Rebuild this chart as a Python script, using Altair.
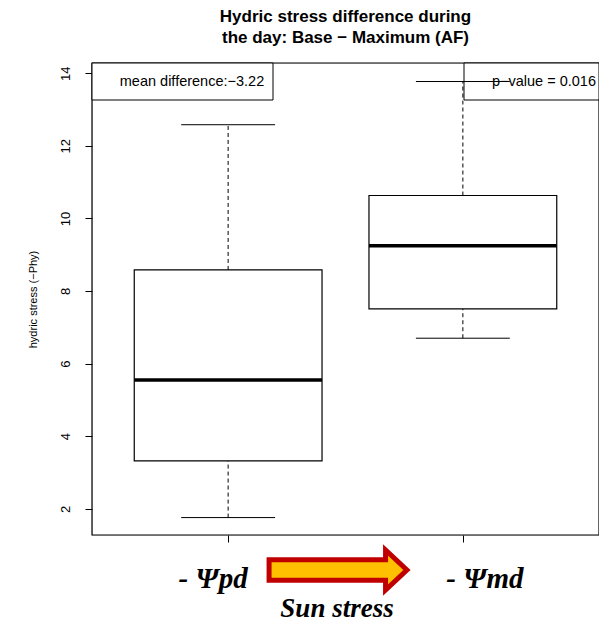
import altair as alt
import pandas as pd

groups = [1, 2]
group_labels = ["- Ψpd", "- Ψmd"]
whisker_low = [1.76, 6.70]
q1 = [3.32, 7.51]
median = [5.55, 9.25]
q3 = [8.58, 10.63]
whisker_high = [12.58, 13.77]
y_ticks = [2, 4, 6, 8, 10, 12, 14]

title_lines = ["Hydric stress difference during", "the day: Base − Maximum (AF)"]
y_title = "hydric stress (−Phy)"
mean_diff_text = ["mean difference:−3.22"]
pvalue_text = ["p−value = 0.016"]
bottom_text = ["Sun stress"]

df = pd.DataFrame({"g": groups, "lo": whisker_low, "q1": q1, "med": median,
                   "q3": q3, "hi": whisker_high, "label": group_labels})

W, H = 507, 472
SANS = "Liberation Sans"
SERIF = "Liberation Serif"

xs = alt.Scale(domain=[0.42, 2.58], nice=False, zero=False)
ys = alt.Scale(domain=[1.28, 14.28], nice=False, zero=False)
x_axis = alt.Axis(values=groups, labels=False, domain=False, tickSize=7, tickColor="black",
                  grid=False, title=None)
y_axis = alt.Axis(values=y_ticks, domain=False, tickSize=7, tickColor="black", grid=False,
                  labelAngle=270, labelAlign="center", labelBaseline="bottom", labelPadding=13,
                  labelFontSize=13, labelFont=SANS, labelColor="black",
                  title=y_title, titleFont=SANS, titleFontSize=11, titleFontWeight="normal",
                  titleColor="black", titlePadding=21)

base = alt.Chart(df).transform_calculate(
    bl="datum.g - 0.4", br="datum.g + 0.4", cl="datum.g - 0.2", cr="datum.g + 0.2")

one = pd.DataFrame({"t": mean_diff_text})
two = pd.DataFrame({"t": pvalue_text})
three = pd.DataFrame({"t": bottom_text})

frame = alt.Chart(three).mark_rect(fill="white", fillOpacity=0, stroke="black",
                                   strokeWidth=1.2).encode(
    x=alt.value(0), x2=alt.value(W), y=alt.value(0), y2=alt.value(H))

legend1 = alt.Chart(one).mark_rect(fill="white", stroke="black", strokeWidth=1).encode(
    x=alt.value(0), x2=alt.value(181), y=alt.value(0), y2=alt.value(37))
legend1_t = alt.Chart(one).mark_text(font=SANS, fontSize=14.5, color="black", align="center",
                                     baseline="middle").encode(
    x=alt.value(100), y=alt.value(19), text="t:N")
legend2 = alt.Chart(two).mark_rect(fill="white", stroke="black", strokeWidth=1).encode(
    x=alt.value(372), x2=alt.value(W), y=alt.value(0), y2=alt.value(37))
legend2_t = alt.Chart(two).mark_text(font=SANS, fontSize=14.5, color="black", align="right",
                                     baseline="middle").encode(
    x=alt.value(W - 3), y=alt.value(19), text="t:N")

whisk_hi = base.mark_rule(color="black", strokeDash=[4, 3], strokeWidth=1).encode(
    x=alt.X("g:Q", scale=xs, axis=x_axis),
    y=alt.Y("q3:Q", scale=ys, axis=y_axis), y2="hi:Q")
whisk_lo = base.mark_rule(color="black", strokeDash=[4, 3], strokeWidth=1).encode(
    x=alt.X("g:Q", scale=xs, axis=x_axis),
    y=alt.Y("lo:Q", scale=ys, axis=y_axis), y2="q1:Q")
cap_hi = base.mark_rule(color="black", strokeWidth=1).encode(
    x=alt.X("cl:Q", scale=xs, axis=x_axis), x2="cr:Q",
    y=alt.Y("hi:Q", scale=ys, axis=y_axis))
cap_lo = base.mark_rule(color="black", strokeWidth=1).encode(
    x=alt.X("cl:Q", scale=xs, axis=x_axis), x2="cr:Q",
    y=alt.Y("lo:Q", scale=ys, axis=y_axis))
box = base.mark_rect(fill="white", stroke="black", strokeWidth=1.2).encode(
    x=alt.X("bl:Q", scale=xs, axis=x_axis), x2="br:Q",
    y=alt.Y("q1:Q", scale=ys, axis=y_axis), y2="q3:Q")
med = base.mark_rule(color="black", strokeWidth=3.5).encode(
    x=alt.X("bl:Q", scale=xs, axis=x_axis), x2="br:Q",
    y=alt.Y("med:Q", scale=ys, axis=y_axis))

lab1 = base.transform_filter("datum.g == 1").mark_text(
    font=SERIF, fontSize=29, fontStyle="italic", fontWeight="bold", color="black",
    align="center", baseline="alphabetic", dx=-15).encode(
    x=alt.X("g:Q", scale=xs, axis=x_axis), y=alt.value(525), text="label:N")
lab2 = base.transform_filter("datum.g == 2").mark_text(
    font=SERIF, fontSize=29, fontStyle="italic", fontWeight="bold", color="black",
    align="center", baseline="alphabetic", dx=22).encode(
    x=alt.X("g:Q", scale=xs, axis=x_axis), y=alt.value(525), text="label:N")

arrow_path = "M -1 -0.15 L 0.69 -0.15 L 0.69 -0.29 L 1 0 L 0.69 0.29 L 0.69 0.15 L -1 0.15 Z"
arrow = alt.Chart(three).mark_point(shape=arrow_path, filled=True, fill="#FFC000",
                                    stroke="#C00000", strokeWidth=5, opacity=1,
                                    size=19000).encode(
    x=alt.value(246), y=alt.value(507))
sun = alt.Chart(three).mark_text(font=SERIF, fontSize=27, fontStyle="italic", fontWeight="bold",
                                 color="black", align="center", baseline="middle").encode(
    x=alt.value(245), y=alt.value(546), text="t:N")

chart = alt.layer(
    frame, legend1, legend1_t, legend2, legend2_t,
    whisk_hi, whisk_lo, cap_hi, cap_lo, box, med,
    lab1, lab2, arrow, sun
).properties(
    width=W, height=H,
    padding={"left": 84, "top": 55, "right": 0, "bottom": 87},
    autosize=alt.AutoSizeParams(type="none"),
    title=alt.TitleParams(title_lines, font=SANS, fontSize=17, fontWeight="bold",
                          color="black", anchor="middle", offset=15, lineHeight=21),
).configure_view(strokeWidth=0).configure(background="white")

chart.save("out.html", embed_options={"renderer": "svg", "actions": False})
